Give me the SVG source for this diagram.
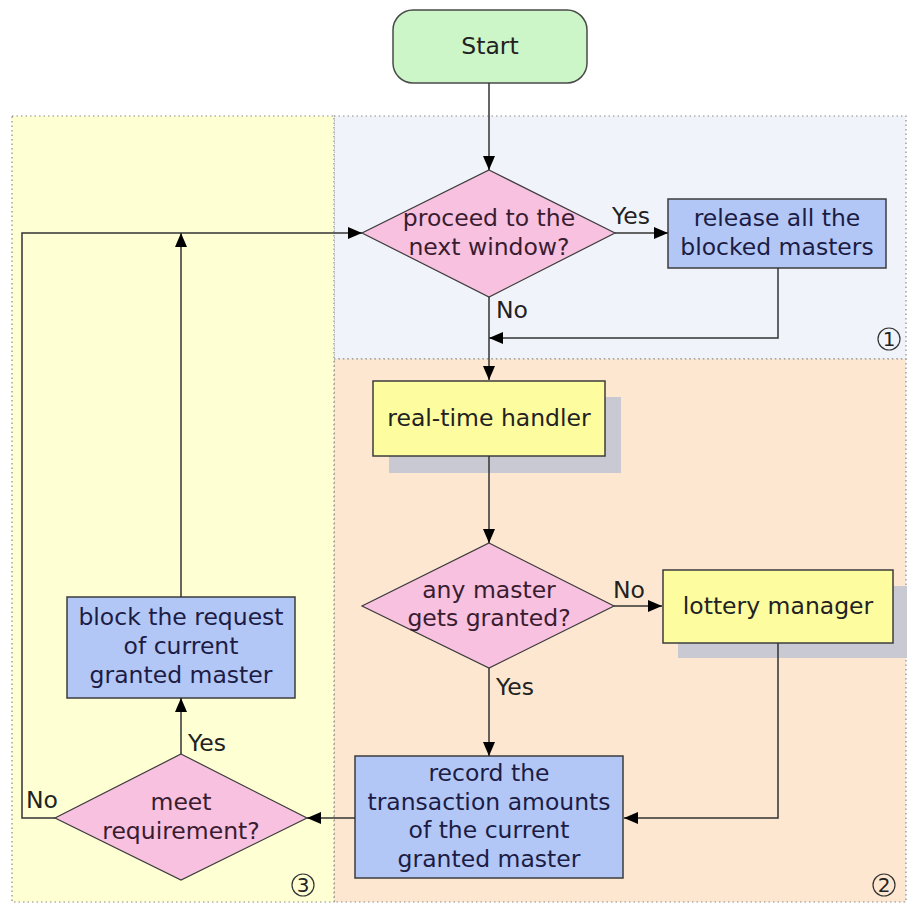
<svg xmlns="http://www.w3.org/2000/svg" width="907" height="906" viewBox="0 0 907 906">
  <defs>
    <marker id="arrow" viewBox="0 0 14 12" refX="14" refY="6" markerWidth="14" markerHeight="12" markerUnits="userSpaceOnUse" orient="auto">
      <path d="M0,0 L14,6 L0,12 z" fill="#000"/>
    </marker>
    <style>
      .zone { stroke: #8a8a8a; stroke-width: 1.2; stroke-dasharray: 1.5 3; }
      .term { fill: #ccf5c8; stroke: #4a4a4a; stroke-width: 1.5; }
      .dec { fill: #f7c1df; stroke: #3c3c3c; stroke-width: 1.2; }
      .act { fill: #b3c7f7; stroke: #3c3c3c; stroke-width: 1.5; }
      .proc { fill: #fdfd9f; stroke: #3c3c3c; stroke-width: 1.5; }
      .shadow { fill: #c8c9d2; }
      .conn { fill: none; stroke: #333; stroke-width: 1.5; }
      text { font-family: "DejaVu Sans", Verdana, sans-serif; font-size: 23.5px; text-anchor: middle; fill: #222; }
      .nav { fill: #1c1c44; }
      .dtext { fill: #3a1c30; }
      .lbl { text-anchor: start; fill: #222; font-size: 23.5px; }
      .num { font-size: 20px; fill: #222; }
    </style>
  </defs>

  <!-- background zones -->
  <g id="zones">
    <rect x="334" y="116" width="572" height="243" fill="#f0f4fa" class="zone"/>
    <rect x="334" y="359" width="572" height="543" fill="#fde7d0" class="zone"/>
    <rect x="12" y="116" width="322" height="786" fill="#ffffd4" class="zone"/>
    <g fill="none" stroke="#333" stroke-width="1.2">
      <circle cx="889" cy="339" r="11"/>
      <circle cx="884" cy="885" r="11"/>
      <circle cx="303" cy="885" r="11"/>
    </g>
    <text x="889" y="346" class="num">1</text>
    <text x="884" y="892" class="num">2</text>
    <text x="303" y="892" class="num">3</text>
  </g>

  <g id="start">
    <rect class="term" x="393" y="10" width="194" height="73" rx="20"/>
    <text x="490" y="54">Start</text>
  </g>

  <g id="next-window">
    <polygon class="dec" points="489,170 615,233 489,297 362,233"/>
    <text class="dtext" x="489" y="226">proceed to the</text>
    <text class="dtext" x="489" y="255">next window?</text>
  </g>

  <g id="release">
    <rect class="act" x="668" y="199" width="218" height="69"/>
    <text class="nav" x="777" y="226">release all the</text>
    <text class="nav" x="777" y="255">blocked masters</text>
  </g>

  <g id="realtime">
    <rect class="shadow" x="389" y="397" width="232" height="76"/>
    <rect class="proc" x="373" y="381" width="232" height="75"/>
    <text x="489" y="426">real-time handler</text>
  </g>

  <g id="granted">
    <polygon class="dec" points="489,543 614,606 489,668 362,606"/>
    <text class="dtext" x="489" y="598">any master</text>
    <text class="dtext" x="489" y="626">gets granted?</text>
  </g>

  <g id="lottery">
    <rect class="shadow" x="678" y="586" width="229" height="72"/>
    <rect class="proc" x="663" y="570" width="230" height="73"/>
    <text x="778" y="614">lottery manager</text>
  </g>

  <g id="record">
    <rect class="act" x="355" y="756" width="268" height="122"/>
    <text class="nav" x="489" y="781">record the</text>
    <text class="nav" x="489" y="810">transaction amounts</text>
    <text class="nav" x="489" y="838">of the current</text>
    <text class="nav" x="489" y="867">granted master</text>
  </g>

  <g id="requirement">
    <polygon class="dec" points="181,754 307,818 181,880 55,818"/>
    <text class="dtext" x="181" y="810">meet</text>
    <text class="dtext" x="181" y="839">requirement?</text>
  </g>

  <g id="block">
    <rect class="act" x="67" y="597" width="228" height="101"/>
    <text class="nav" x="181" y="625">block the request</text>
    <text class="nav" x="181" y="654">of current</text>
    <text class="nav" x="181" y="683">granted master</text>
  </g>

  <!-- connectors, drawn over the drop shadows -->
  <g id="connectors">
    <path class="conn" d="M489,83 V170" marker-end="url(#arrow)"/>
    <path class="conn" d="M615,233 H668" marker-end="url(#arrow)"/>
    <path class="conn" d="M778,268 V338 H489" marker-end="url(#arrow)"/>
    <path class="conn" d="M489,297 V380" marker-end="url(#arrow)"/>
    <path class="conn" d="M489,456 V543" marker-end="url(#arrow)"/>
    <path class="conn" d="M614,606 H662" marker-end="url(#arrow)"/>
    <path class="conn" d="M489,668 V756" marker-end="url(#arrow)"/>
    <path class="conn" d="M778,643 V818 H624" marker-end="url(#arrow)"/>
    <path class="conn" d="M355,818 H307" marker-end="url(#arrow)"/>
    <path class="conn" d="M181,754 V698" marker-end="url(#arrow)"/>
    <path class="conn" d="M181,597 V233" marker-end="url(#arrow)"/>
    <path class="conn" d="M55,818 H22 V233 H362" marker-end="url(#arrow)"/>
    <text class="lbl" x="612" y="224">Yes</text>
    <text class="lbl" x="496" y="318">No</text>
    <text class="lbl" x="613" y="598">No</text>
    <text class="lbl" x="496" y="695">Yes</text>
    <text class="lbl" x="188" y="751">Yes</text>
    <text class="lbl" x="26" y="808">No</text>
  </g>
</svg>
